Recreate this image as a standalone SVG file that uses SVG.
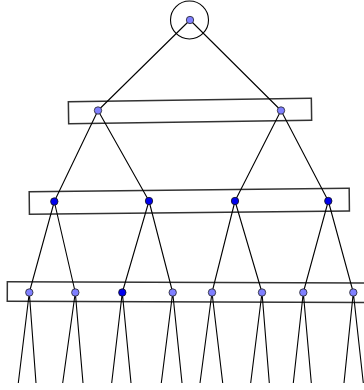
<svg xmlns="http://www.w3.org/2000/svg" width="364" height="390" viewBox="0 0 364 390">
<style>
.edge{stroke:#000;stroke-width:1.1;fill:none}
.box{fill:#fff;stroke:#333;stroke-width:1.5}
.lt{fill:#7f7fff;stroke:#222;stroke-width:0.8}
.dk{fill:#0000ee;stroke:#111;stroke-width:0.8}
</style>
<rect width="364" height="390" fill="#fff"/>
<g id="boxes">
<rect id="level1" class="box" x="68.5" y="100" width="243" height="22" transform="rotate(-0.83 190 111)"/>
<rect id="level2" class="box" x="29.3" y="190" width="320" height="22.6" transform="rotate(-0.6 189.3 201.3)"/>
<rect id="level3" class="box" x="7.3" y="282.5" width="364" height="19.5" transform="rotate(0.2 189 292.3)"/>
<circle id="rootcircle" cx="189.5" cy="20" r="19" fill="none" stroke="#000" stroke-width="1.1"/>
</g>
<g id="connectors" class="edge">
<path d="M190 20L98 110.5M190 20L281 110.5"/>
<path d="M98 110.5L54.3 201.5M98 110.5L149 201M281 110.5L235 201M281 110.5L328.3 201"/>
<path d="M54.3 201.5L29.3 292.5M54.3 201.5L75.3 292.5M149 201L122.3 292.5M149 201L172.7 292.5M235 201L212 292.5M235 201L262 292.5M328.3 201L303.3 292.5M328.3 201L353.3 292.5"/>
<path d="M29.3 292.5L18.3 383M29.3 292.5L36 383M75.3 292.5L62.7 383M75.3 292.5L83 383M122.3 292.5L111.7 383M122.3 292.5L131 383M172.7 292.5L161.3 383M172.7 292.5L182 383M212 292.5L200 383M212 292.5L222.7 383M262 292.5L250.7 383M262 292.5L269.3 383M303.3 292.5L293.3 383M303.3 292.5L311.3 383M353.3 292.5L344 383M353.3 292.5L363.3 383"/>
</g>
<g id="root"><circle class="lt" cx="190" cy="20" r="3.7"/></g>
<g id="n1a"><circle class="lt" cx="98" cy="110.5" r="3.7"/></g>
<g id="n1b"><circle class="lt" cx="281" cy="110.5" r="3.7"/></g>
<g id="n2a"><circle class="dk" cx="54.3" cy="201.5" r="3.7"/></g>
<g id="n2b"><circle class="dk" cx="149" cy="201" r="3.7"/></g>
<g id="n2c"><circle class="dk" cx="235" cy="201" r="3.7"/></g>
<g id="n2d"><circle class="dk" cx="328.3" cy="201" r="3.7"/></g>
<g id="n3a"><circle class="lt" cx="29.3" cy="292.5" r="3.7"/></g>
<g id="n3b"><circle class="lt" cx="75.3" cy="292.5" r="3.7"/></g>
<g id="n3c"><circle class="dk" cx="122.3" cy="292.5" r="3.7"/></g>
<g id="n3d"><circle class="lt" cx="172.7" cy="292.5" r="3.7"/></g>
<g id="n3e"><circle class="lt" cx="212" cy="292.5" r="3.7"/></g>
<g id="n3f"><circle class="lt" cx="262" cy="292.5" r="3.7"/></g>
<g id="n3g"><circle class="lt" cx="303.3" cy="292.5" r="3.7"/></g>
<g id="n3h"><circle class="lt" cx="353.3" cy="292.5" r="3.7"/></g>
</svg>
